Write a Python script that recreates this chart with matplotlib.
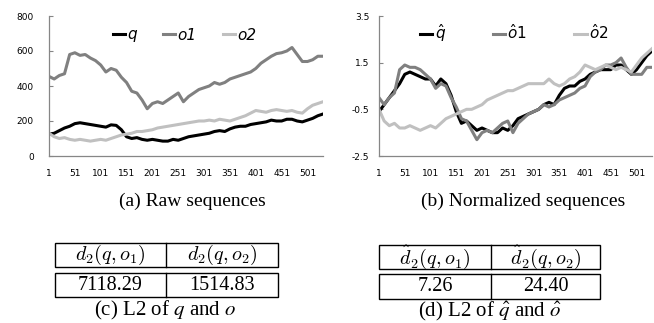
import matplotlib
matplotlib.use("Agg")
import matplotlib.pyplot as plt
from matplotlib.patches import Rectangle
from matplotlib.font_manager import FontProperties

plt.rcParams['axes.unicode_minus'] = False

# sample positions (every 10th point of the sequences)
idx = list(range(1, 532, 10))

# raw sequences
raw_q = [125, 130, 145, 160, 170, 185, 190, 185, 180, 175, 170, 165, 178, 175, 150, 110,
         100, 105, 95, 90, 95, 90, 85, 85, 95, 90, 100, 110, 115, 120, 125, 130, 140, 145,
         140, 155, 165, 170, 170, 180, 185, 190, 195, 205, 200, 200, 210, 210, 200, 195,
         205, 215, 230, 240]
raw_o1 = [455, 440, 460, 470, 580, 590, 575, 580, 560, 545, 520, 480, 500, 490, 450, 420,
          370, 360, 320, 270, 300, 310, 300, 320, 340, 360, 310, 340, 360, 380, 390, 400,
          420, 410, 420, 440, 450, 460, 470, 480, 500, 530, 550, 570, 585, 590, 600, 620,
          580, 540, 540, 550, 570, 570]
raw_o2 = [130, 110, 100, 105, 95, 90, 95, 90, 85, 90, 95, 90, 100, 110, 120, 125, 130,
          140, 140, 145, 150, 160, 165, 170, 175, 180, 185, 190, 195, 200, 200, 205, 200,
          210, 205, 200, 210, 220, 230, 245, 260, 255, 250, 260, 265, 260, 255, 260, 250,
          245, 270, 290, 300, 310]

# normalized sequences
norm_q = [-0.6, -0.3, 0.0, 0.3, 0.6, 1.0, 1.1, 1.0, 0.9, 0.8, 0.8, 0.5, 0.8, 0.6, 0.1,
          -0.6, -1.1, -1.0, -1.2, -1.4, -1.3, -1.4, -1.5, -1.5, -1.3, -1.4, -1.2, -0.9,
          -0.8, -0.7, -0.6, -0.5, -0.3, -0.2, -0.3, 0.1, 0.4, 0.5, 0.5, 0.7, 0.8, 1.0, 1.1,
          1.2, 1.2, 1.2, 1.4, 1.4, 1.2, 1.0, 1.2, 1.5, 1.8, 2.0]
norm_o1 = [0.0, -0.3, 0.0, 0.2, 1.2, 1.4, 1.3, 1.3, 1.2, 1.0, 0.8, 0.4, 0.6, 0.5, 0.0,
           -0.4, -0.9, -1.0, -1.4, -1.8, -1.5, -1.4, -1.5, -1.3, -1.1, -1.0, -1.5, -1.1,
           -0.9, -0.7, -0.6, -0.5, -0.3, -0.4, -0.3, -0.1, 0.0, 0.1, 0.2, 0.4, 0.5, 0.9,
           1.1, 1.2, 1.4, 1.4, 1.5, 1.7, 1.3, 1.0, 1.0, 1.0, 1.3, 1.3]
norm_o2 = [-0.5, -1.0, -1.2, -1.1, -1.3, -1.3, -1.2, -1.3, -1.4, -1.3, -1.2, -1.3, -1.1,
           -0.9, -0.8, -0.7, -0.6, -0.5, -0.5, -0.4, -0.3, -0.1, 0.0, 0.1, 0.2, 0.3, 0.3,
           0.4, 0.5, 0.6, 0.6, 0.6, 0.6, 0.8, 0.6, 0.5, 0.6, 0.8, 0.9, 1.1, 1.4, 1.3, 1.2,
           1.3, 1.4, 1.3, 1.2, 1.3, 1.2, 1.1, 1.4, 1.7, 1.9, 2.1]

xticks = [1, 51, 101, 151, 201, 251, 301, 351, 401, 451, 501]
raw_yticks = [0, 200, 400, 600, 800]
norm_yticks = [-2.5, -0.5, 1.5, 3.5]

raw_labels = ['q', 'o1', 'o2']
norm_labels = [r'$\hat{q}$', r'$\hat{o}\mathit{1}$', r'$\hat{o}\mathit{2}$']
colors = ['black', '#808080', '#c0c0c0']

tab_c_head = [r'$d_2(q, o_1)$', r'$d_2(q, o_2)$']
tab_c_vals = ['7118.29', '1514.83']
tab_d_head = [r'$\hat{d}_2(q, o_1)$', r'$\hat{d}_2(q, o_2)$']
tab_d_vals = ['7.26', '24.40']

W, H = 654, 323
fig = plt.figure(figsize=(W / 100, H / 100), dpi=100)


def fx(px):
    return px / W


def fy(py):
    return 1 - py / H


def style_axes(ax, pad_y):
    for s in ['top', 'right']:
        ax.spines[s].set_visible(False)
    for s in ['left', 'bottom']:
        ax.spines[s].set_color('#868686')
        ax.spines[s].set_linewidth(0.9)
    ax.tick_params(axis='y', direction='in', length=3, color='#868686',
                   labelsize=6.5, pad=pad_y)
    ax.tick_params(axis='x', length=0, labelsize=6.5, pad=9)


leg_font = FontProperties(family='DejaVu Sans', style='oblique', size=11)
leg_font.set_math_fontfamily('dejavusans')

# (a) raw
ax1 = fig.add_axes([fx(49), fy(156), fx(323) - fx(49), fy(16) - fy(156)])
for ys, c, lab in zip([raw_q, raw_o1, raw_o2], colors, raw_labels):
    ax1.plot(idx, ys, color=c, lw=2.2, label=lab, solid_joinstyle='round')
ax1.set_xlim(1, 531)
ax1.set_ylim(0, 800)
ax1.set_xticks(xticks)
ax1.set_yticks(raw_yticks)
style_axes(ax1, 11)
ax1.legend(loc='center left', bbox_to_anchor=(fx(113), fy(35)),
           bbox_transform=fig.transFigure, ncol=3, frameon=False, prop=leg_font,
           handlelength=0.8, handletextpad=0.15, columnspacing=1.7, borderpad=0,
           borderaxespad=0)

# (b) normalized
ax2 = fig.add_axes([fx(379), fy(156), fx(652) - fx(379), fy(16) - fy(156)])
for ys, c, lab in zip([norm_q, norm_o1, norm_o2], colors, norm_labels):
    ax2.plot(idx, ys, color=c, lw=2.2, label=lab, solid_joinstyle='round')
ax2.set_xlim(1, 531)
ax2.set_ylim(-2.5, 3.5)
ax2.set_xticks(xticks)
ax2.set_yticks(norm_yticks)
style_axes(ax2, 7)
ax2.legend(loc='center left', bbox_to_anchor=(fx(420), fy(33)),
           bbox_transform=fig.transFigure, ncol=3, frameon=False, prop=leg_font,
           handlelength=0.8, handletextpad=0.15, columnspacing=3.1, borderpad=0,
           borderaxespad=0)

serif = 'Liberation Serif'
fig.text(fx(192), fy(201), '(a) Raw sequences', family=serif, size=14,
         ha='center', va='center')
fig.text(fx(523), fy(201), '(b) Normalized sequences', family=serif, size=14,
         ha='center', va='center')


def draw_table(x0, xm, x1, r1, r2, head, vals):
    for (top, bot), row in zip([r1, r2], [head, vals]):
        fig.add_artist(Rectangle((fx(x0), fy(bot)), fx(x1) - fx(x0), fy(top) - fy(bot),
                                 transform=fig.transFigure, fill=False,
                                 edgecolor='black', lw=1.0))
        fig.add_artist(plt.Line2D([fx(xm), fx(xm)], [fy(bot), fy(top)],
                                  transform=fig.transFigure, color='black', lw=1.0))
        cy = fy((top + bot) / 2)
        for cx, t in zip([(x0 + xm) / 2, (xm + x1) / 2], row):
            fig.text(fx(cx), cy, t, family=serif, size=14.5, ha='center', va='center',
                     math_fontfamily='cm')


draw_table(55, 166, 278, (243, 267), (273, 297), tab_c_head, tab_c_vals)
draw_table(379, 491, 600, (245, 269), (274, 299), tab_d_head, tab_d_vals)

fig.text(fx(165), fy(310), r'(c) L2 of $q$ and $o$', family=serif, size=15,
         ha='center', va='center', math_fontfamily='stix')
fig.text(fx(490), fy(311), r'(d) L2 of $\hat{q}$ and $\hat{o}$', family=serif, size=15,
         ha='center', va='center', math_fontfamily='stix')

fig.savefig('out.png', dpi=100)
